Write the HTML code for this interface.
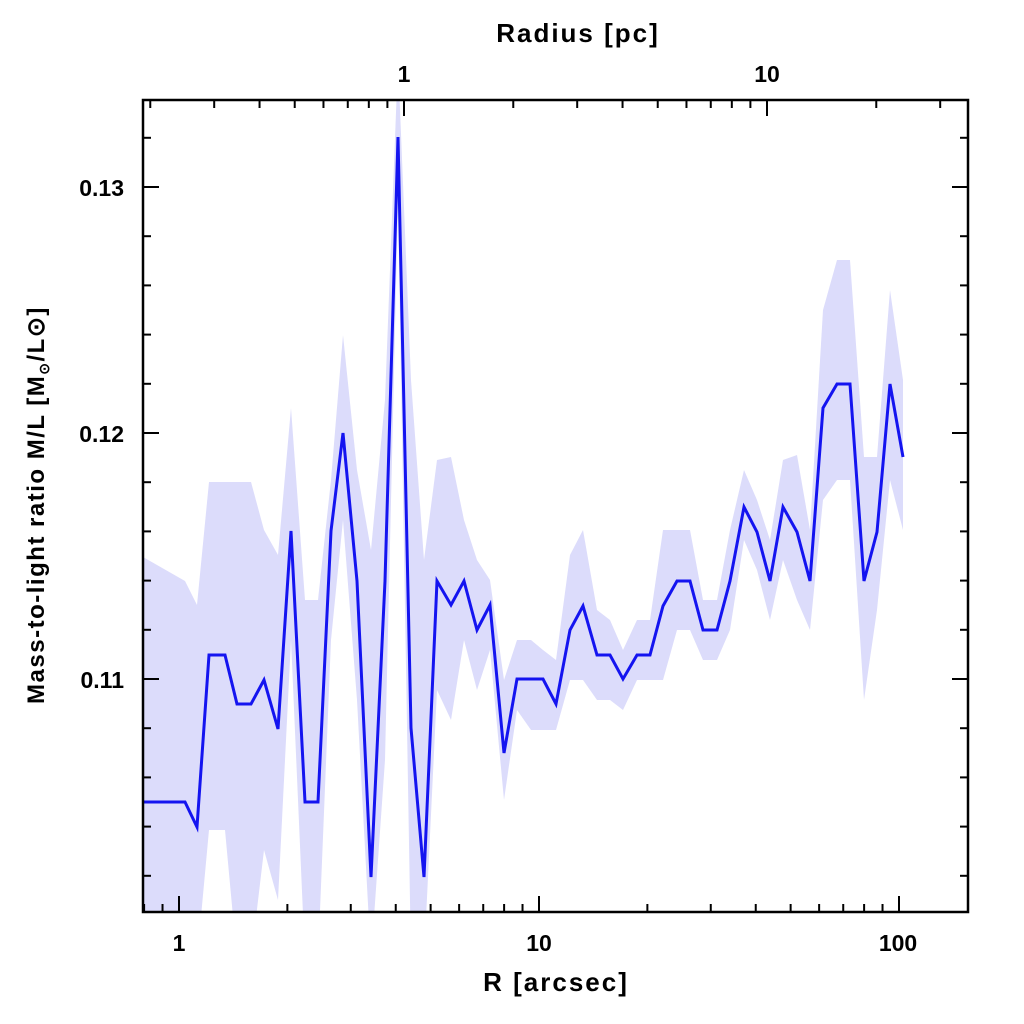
<!DOCTYPE html>
<html><head><meta charset="utf-8"><style>body{margin:0;background:#fff}svg{display:block}text{font-family:"Liberation Sans",sans-serif;font-weight:bold;fill:#000}</style></head>
<body>
<svg id="s" width="1024" height="1024" xmlns="http://www.w3.org/2000/svg">
<defs><clipPath id="c"><rect x="143" y="100" width="825" height="812"/></clipPath></defs>
<g id="band" clip-path="url(#c)"></g>
<g id="line" clip-path="url(#c)"></g>
<g id="ticks" stroke="#000" stroke-width="2"></g>
<rect x="143" y="100" width="825" height="812" fill="none" stroke="#000" stroke-width="2.5"/>
<text x="179" y="951" font-size="23" text-anchor="middle">1</text>
<text x="539" y="951" font-size="23" text-anchor="middle">10</text>
<text x="898" y="951" font-size="23" text-anchor="middle">100</text>
<text x="556" y="991" font-size="26" text-anchor="middle" letter-spacing="2">R [arcsec]</text>
<text x="404" y="82" font-size="23" text-anchor="middle">1</text>
<text x="767" y="82" font-size="23" text-anchor="middle">10</text>
<text x="578" y="42" font-size="26" text-anchor="middle" letter-spacing="2">Radius [pc]</text>
<text x="124" y="196" font-size="23" text-anchor="end">0.13</text>
<text x="124" y="442" font-size="23" text-anchor="end">0.12</text>
<text x="124" y="688" font-size="23" text-anchor="end">0.11</text>
<text transform="translate(44,505) rotate(-90)" font-size="24" text-anchor="middle" letter-spacing="1.5">Mass-to-light ratio M/L [M<tspan font-size="14" dy="5">⊙</tspan><tspan dy="-5">/L⊙]</tspan></text>
</svg>
<script>
const NS="http://www.w3.org/2000/svg";
const xs=[143,185,197,209,225,237,251,264,278,291,305,318,331,343,357,371,385,398,411,424,437,451,464,477,490,504,517,531,543,556,570,583,597,610,623,637,650,663,677,690,703,717,730,744,757,770,783,797,810,823,837,850,864,877,890,903];
const ys=[802,802,827,655,655,704,704,680,729,531,802,802,531,433,581,877,581,137,728,877,581,605,581,630,605,753,679,679,679,704,630,606,655,655,679,655,655,606,581,581,630,630,581,507,532,581,507,532,581,408,384,384,581,532,384,457];
const up=[557,581,605,482,482,482,482,530,555,408,600,600,480,335,470,550,400,60,380,560,460,457,520,560,580,680,640,640,650,660,555,530,610,620,650,620,620,530,530,530,600,600,530,470,500,540,460,455,530,310,260,260,457,457,290,380];
const lo=[960,960,960,830,830,960,960,850,900,640,960,960,640,520,700,960,760,200,960,960,690,720,640,690,650,800,710,730,730,730,680,680,700,700,710,680,680,680,630,630,660,660,630,540,570,620,560,600,630,500,480,480,700,610,480,530];
let p=xs.map((x,i)=>x+","+up[i]).join(" ")+" "+xs.slice().reverse().map((x,i)=>x+","+lo[lo.length-1-i]).join(" ");
let pg=document.createElementNS(NS,"polygon");pg.setAttribute("points",p);pg.setAttribute("fill","#dcdcfb");document.getElementById("band").appendChild(pg);
let pl=document.createElementNS(NS,"polyline");pl.setAttribute("points",xs.map((x,i)=>x+","+ys[i]).join(" "));pl.setAttribute("fill","none");pl.setAttribute("stroke","#1414f0");pl.setAttribute("stroke-width","3");document.getElementById("line").appendChild(pl);
const T=document.getElementById("ticks");
function L(x1,y1,x2,y2){let l=document.createElementNS(NS,"line");l.setAttribute("x1",x1);l.setAttribute("y1",y1);l.setAttribute("x2",x2);l.setAttribute("y2",y2);T.appendChild(l);}
for(let d=-1;d<3;d++)for(let k=1;k<10;k++){let x=179+360*(d+Math.log10(k));if(x<144||x>967)continue;let len=k==1?16:8;L(x,912,x,912-len);}
for(let d=-1;d<2;d++)for(let k=1;k<10;k++){let x=404+363*(d+Math.log10(k));if(x<144||x>967)continue;let len=k==1?16:8;L(x,100,x,100+len);}
for(let i=-10;i<30;i++){let v=0.100+i*0.002;let y=679-24600*(v-0.11);if(y<101||y>911)continue;let maj=Math.abs(Math.round(v*1000)%10)==0;let len=maj?16:8;L(143,y,143+len,y);L(968,y,968-len,y);}
</script>
</body></html>
